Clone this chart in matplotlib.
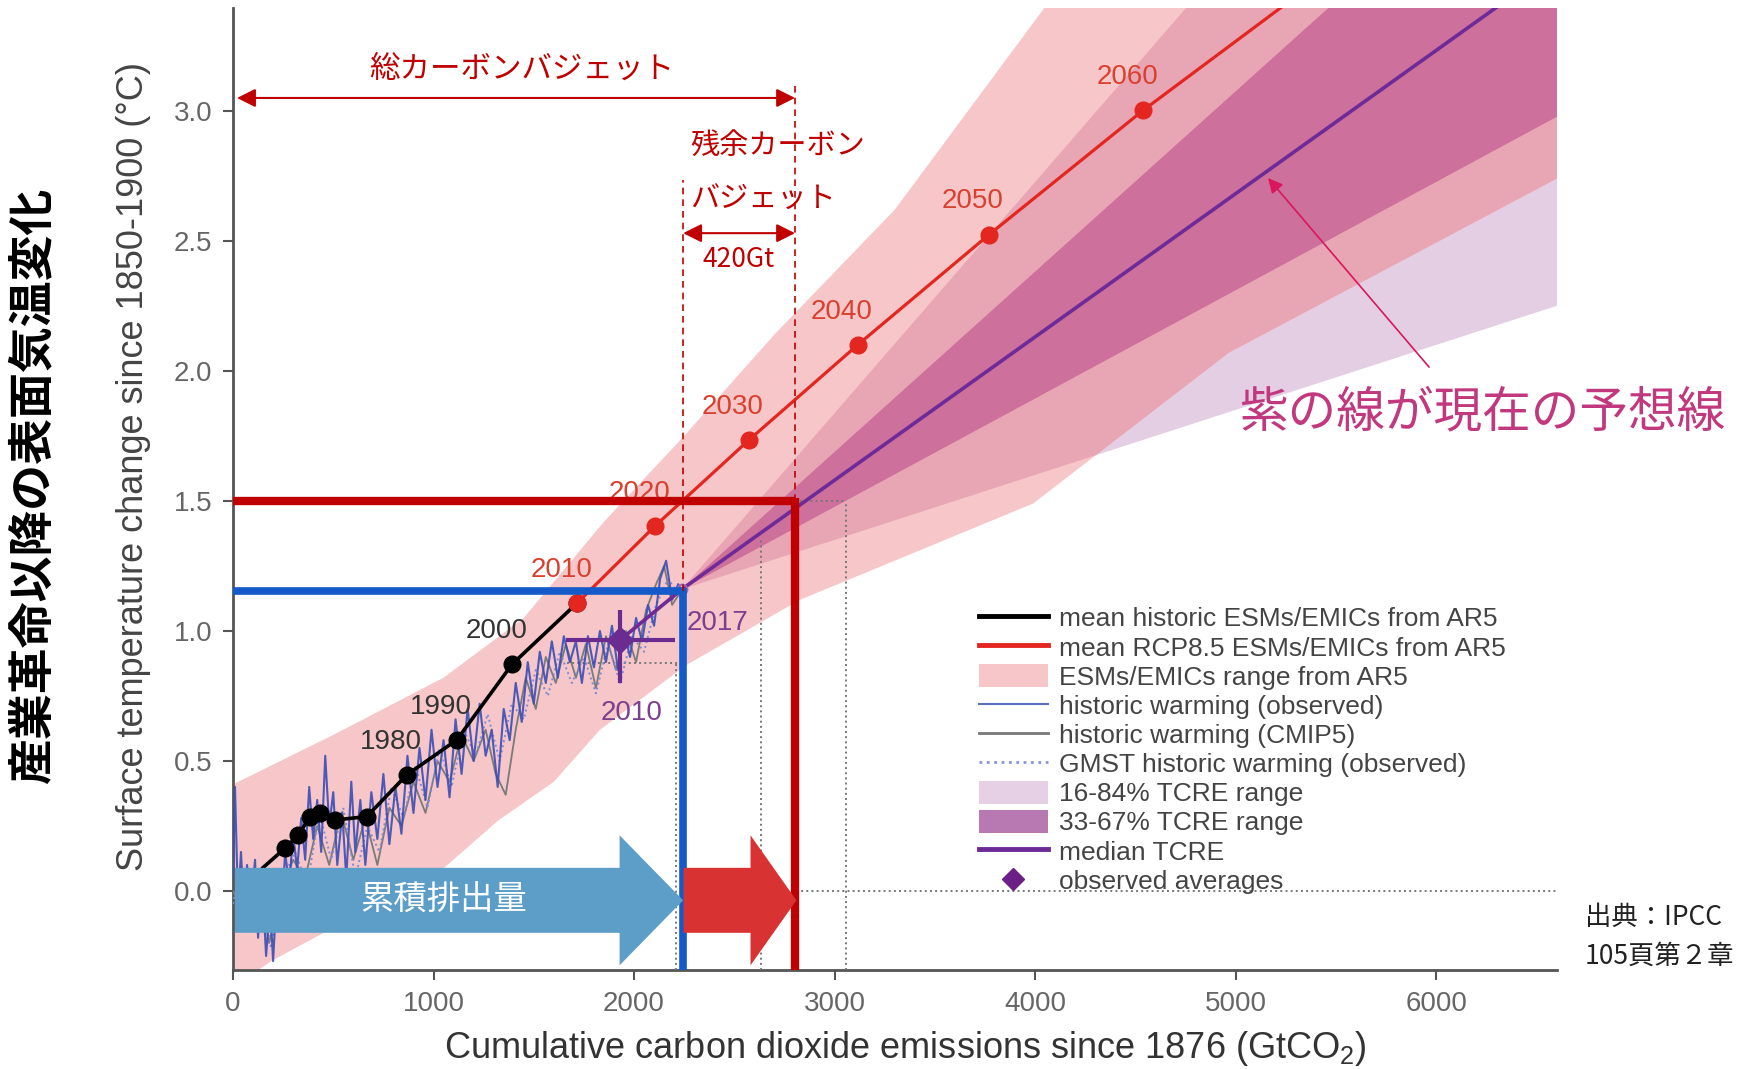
import matplotlib.pyplot as plt
from matplotlib.patches import Polygon, FancyArrow, Patch
from matplotlib.lines import Line2D

plt.rcParams['font.family'] = ['Liberation Sans', 'DejaVu Sans']
plt.rcParams['mathtext.fontset'] = 'custom'
plt.rcParams['mathtext.rm'] = 'Liberation Sans'
JP = ['Noto Sans CJK JP', 'DejaVu Sans']

# ---- data (GtCO2, degC) ----
# mean historic ESMs/EMICs from AR5 (first point is line start only)
hist_x = [150, 259, 326, 384, 434, 509, 667, 866, 1116, 1392, 1717]
hist_y = [0.09, 0.164, 0.215, 0.286, 0.299, 0.273, 0.286, 0.446, 0.581, 0.872, 1.108]
hist_labels = {7: '1980', 8: '1990', 9: '2000'}

# mean RCP8.5 ESMs/EMICs from AR5
rcp_years = ['2010', '2020', '2030', '2040', '2050', '2060']
rcp_x = [1717, 2105, 2571, 3115, 3770, 4540]
rcp_y = [1.108, 1.404, 1.733, 2.100, 2.524, 3.003]
rcp_tail_x, rcp_tail_y = 5300, 3.44

# ESMs/EMICs range from AR5 (outline: upper edge then lower edge)
ar5_upper_x = [-50, 0, 500, 1050, 1450, 1850, 2250, 2700, 3300, 4050, 4450]
ar5_upper_y = [0.40, 0.41, 0.60, 0.82, 1.05, 1.42, 1.75, 2.14, 2.62, 3.40, 3.70]
ar5_lower_x = [6800, 6700, 4966, 3990, 2828, 2263, 1830, 1600, 1321, 1054, 190, -50]
ar5_lower_y = [3.70, 2.78, 2.07, 1.49, 1.12, 0.87, 0.62, 0.42, 0.27, 0.09, -0.27, -0.40]

# TCRE ranges fanning out from 2017
tcre_outer_x = [2238, 5050, 6800, 6800]
tcre_outer_y = [1.16, 3.66, 3.66, 2.30]
tcre_inner_x = [2238, 5800, 6800, 6800]
tcre_inner_y = [1.16, 3.63, 3.63, 3.06]
tcre_med_x = [1930, 2238, 6340]
tcre_med_y = [0.965, 1.16, 3.42]

# observed averages (2006-2015) with ranges
obs_avg_x, obs_avg_y = 1930, 0.965
obs_avg_xrange = (1662, 2202)
obs_avg_yrange = (0.80, 1.08)
point_2017 = (2238, 1.16)

# historic warming (observed)
obs_x = [0, 10, 25, 40, 55, 70, 90, 110, 125, 145, 165, 185, 200, 220, 240, 260, 280,
         300, 320, 340, 360, 380, 400, 420, 440, 460, 480, 500, 520, 545, 565, 590,
         610, 635, 660, 690, 720, 750, 780, 810, 840, 870, 900, 930, 960, 990, 1020,
         1050, 1080, 1110, 1140, 1170, 1200, 1230, 1260, 1290, 1320, 1350, 1380,
         1410, 1440, 1470, 1500, 1530, 1560, 1590, 1620, 1650, 1680, 1710, 1740,
         1770, 1800, 1830, 1860, 1890, 1920, 1950, 1980, 2010, 2040, 2070, 2100,
         2130, 2160, 2190, 2220, 2240]
obs_y = [0.05, 0.40, -0.05, 0.15, -0.10, 0.10, -0.05, 0.12, -0.18, 0.05, -0.25, -0.05,
         -0.27, 0.02, -0.12, 0.15, 0.02, 0.22, 0.08, 0.28, 0.12, 0.40, 0.20, 0.35, 0.15,
         0.52, 0.25, 0.38, 0.10, 0.30, 0.05, 0.42, 0.15, 0.35, 0.10, 0.38, 0.20, 0.45,
         0.18, 0.40, 0.22, 0.52, 0.30, 0.55, 0.35, 0.62, 0.40, 0.58, 0.36, 0.66, 0.45,
         0.70, 0.50, 0.72, 0.52, 0.62, 0.40, 0.70, 0.58, 0.80, 0.65, 0.88, 0.72, 0.92,
         0.80, 0.96, 0.82, 0.98, 0.88, 0.96, 0.80, 0.98, 0.86, 1.00, 0.88, 1.02, 0.85,
         1.00, 0.90, 1.05, 0.96, 1.10, 1.02, 1.20, 1.27, 1.12, 1.18, 1.15]

# historic warming (CMIP5)
cmip_x = [0, 60, 120, 180, 240, 300, 360, 420, 480, 540, 600, 660, 720, 780, 840, 900,
          960, 1020, 1080, 1140, 1200, 1260, 1310, 1360, 1410, 1460, 1510, 1560, 1610,
          1660, 1710, 1760, 1810, 1860, 1910, 1960, 2010, 2060, 2110, 2150, 2190, 2240]
cmip_y = [0.00, -0.10, 0.05, -0.20, 0.00, 0.12, 0.05, 0.25, 0.10, 0.30, 0.12, 0.28,
          0.10, 0.32, 0.25, 0.42, 0.30, 0.50, 0.42, 0.60, 0.50, 0.62, 0.45, 0.37, 0.62,
          0.82, 0.70, 0.90, 0.80, 0.95, 0.82, 0.95, 0.78, 0.98, 0.85, 1.00, 0.88, 1.08,
          1.18, 1.25, 1.10, 1.16]

# GMST historic warming (observed)
gmst_x = [0, 40, 90, 140, 190, 250, 310, 370, 430, 490, 550, 610, 670, 730, 790, 850,
          910, 970, 1030, 1090, 1150, 1210, 1270, 1330, 1390, 1450, 1510, 1570, 1630,
          1690, 1750, 1810, 1870, 1930, 1990, 2050, 2110, 2170, 2240]
gmst_y = [-0.05, 0.10, -0.12, 0.02, -0.22, 0.05, 0.15, 0.02, 0.30, 0.12, 0.32, 0.05,
          0.25, 0.15, 0.40, 0.28, 0.48, 0.32, 0.55, 0.40, 0.62, 0.52, 0.68, 0.50, 0.72,
          0.66, 0.85, 0.75, 0.92, 0.80, 0.90, 0.76, 0.95, 0.80, 0.98, 0.92, 1.10, 1.20,
          1.12]

# carbon budget annotations
budget_15 = 1.5          # degC target
budget_total = 2803      # total budget at 1.5 degC
emitted_now = 2245       # cumulative emissions to date
warming_now = 1.155
remaining_label = '420Gt'

xticks = [0, 1000, 2000, 3000, 4000, 5000, 6000]
yticks = [0.0, 0.5, 1.0, 1.5, 2.0, 2.5, 3.0]

# ---- colours ----
C_PINK = '#f6c6c8'
C_MED = '#e8a5b4'
C_LAV = '#e3cee3'
C_DARK = '#cd709b'
C_RED = '#e3261f'
C_PURPLE = '#6e2a96'
C_BUDGET = '#c00000'
C_NOW = '#145ac8'

fig = plt.figure(figsize=(17.44, 10.69), dpi=100)
ax = fig.add_axes([233 / 1744, 1 - 970 / 1069, 1324 / 1744, 962 / 1069])
ax.set_xlim(0, 6603)
ax.set_ylim(-0.304, 3.396)

# plumes
tcre_lav = Polygon(list(zip(tcre_outer_x, tcre_outer_y)), closed=True,
                   facecolor=C_LAV, edgecolor='none', zorder=1)
ax.add_patch(tcre_lav)
ar5_patch = Polygon(list(zip(ar5_upper_x + ar5_lower_x, ar5_upper_y + ar5_lower_y)),
                    closed=True, facecolor=C_PINK, edgecolor='none', zorder=2)
ax.add_patch(ar5_patch)
tcre_med_patch = Polygon(list(zip(tcre_outer_x, tcre_outer_y)), closed=True,
                         facecolor=C_MED, edgecolor='none', zorder=3)
ax.add_patch(tcre_med_patch)
tcre_med_patch.set_clip_path(ar5_patch)
ax.add_patch(Polygon(list(zip(tcre_inner_x, tcre_inner_y)), closed=True,
                     facecolor=C_DARK, edgecolor='none', zorder=4))

# IPCC reference dotted lines
dot = dict(color='#777777', ls=':', lw=1.4, zorder=5)
ax.plot([2210, 2210], [-0.304, 0.875], **dot)
ax.plot([1664, 2212], [0.875, 0.875], **dot)
ax.plot([2633, 2633], [-0.304, 1.35], **dot)
ax.plot([3056, 3056], [-0.304, 1.5], **dot)
ax.plot([2803, 3056], [1.5, 1.5], **dot)
ax.plot([2810, 6603], [0.0, 0.0], **dot)

# historic warming series
ax.plot(cmip_x, cmip_y, color='#7a7a7a', lw=1.3, zorder=5)
ax.plot(gmst_x, gmst_y, color='#7d8bd6', lw=1.4, ls=':', zorder=5)
ax.plot(obs_x, obs_y, color='#3b4db5', lw=1.5, alpha=0.9, zorder=5)

# TCRE median and observed averages
ax.plot(tcre_med_x, tcre_med_y, color=C_PURPLE, lw=2.6, zorder=6)
ax.plot(*point_2017, marker='o', ms=7, mfc='none', mec='#9a6ab5', mew=1.5, zorder=6)
ax.errorbar(obs_avg_x, obs_avg_y,
            xerr=[[obs_avg_x - obs_avg_xrange[0]], [obs_avg_xrange[1] - obs_avg_x]],
            yerr=[[obs_avg_y - obs_avg_yrange[0]], [obs_avg_yrange[1] - obs_avg_y]],
            fmt='D', color='#6a2c91', ms=13, elinewidth=3, capsize=0, zorder=7)
ax.text(1990, 0.685, '2010', color='#7b3f8f', fontsize=20, ha='center', va='center', zorder=7)
ax.text(2414, 1.031, '2017', color='#7b3f8f', fontsize=20, ha='center', va='center', zorder=7)

# AR5 model means
ax.plot(hist_x, hist_y, color='black', lw=2.6, marker='o', ms=12,
        markevery=list(range(1, len(hist_x))), zorder=7)
for i, lab in hist_labels.items():
    ax.annotate(lab, (hist_x[i], hist_y[i]), xytext=(-11.5, 24), textcoords='offset points',
                ha='center', va='center', fontsize=20, color='#333333', zorder=8)
ax.plot(rcp_x + [rcp_tail_x], rcp_y + [rcp_tail_y], color=C_RED, lw=2.3, zorder=7)
ax.plot(rcp_x, rcp_y, ls='none', marker='o', ms=12, color=C_RED, zorder=8)
for x, y, lab in zip(rcp_x, rcp_y, rcp_years):
    ax.annotate(lab, (x, y), xytext=(-11.5, 24), textcoords='offset points',
                ha='center', va='center', fontsize=20, color='#d9402f', zorder=8)

# 1.5 degC budget and current state
ax.plot([0, budget_total], [budget_15, budget_15], color=C_BUDGET, lw=6, zorder=9,
        solid_capstyle='butt')
ax.plot([budget_total, budget_total], [-0.304, budget_15 + 0.012], color=C_BUDGET, lw=6,
        zorder=9, solid_capstyle='butt')
ax.plot([0, emitted_now], [warming_now, warming_now], color=C_NOW, lw=5.5, zorder=9,
        solid_capstyle='butt')
ax.plot([emitted_now, emitted_now], [-0.304, warming_now + 0.011], color=C_NOW, lw=5.5,
        zorder=9, solid_capstyle='butt')

dash = dict(color=C_BUDGET, lw=1.2, ls=(0, (4, 3)), zorder=9)
ax.plot([emitted_now, emitted_now], [warming_now, 2.735], **dash)
ax.plot([budget_total, budget_total], [budget_15, 3.11], **dash)

arrow = dict(arrowstyle='<|-|>', color=C_BUDGET, lw=1.5, mutation_scale=28,
             shrinkA=0, shrinkB=0)
ax.annotate('', xy=(budget_total, 3.05), xytext=(20, 3.05), arrowprops=arrow, zorder=9)
ax.annotate('', xy=(budget_total, 2.53), xytext=(emitted_now, 2.53), arrowprops=arrow,
            zorder=9)
ax.text(1441, 3.16, '総カーボンバジェット', family=JP, fontsize=22, color=C_BUDGET,
        ha='center', va='center', zorder=9)
ax.text(2279, 2.862, '残余カーボン', family=JP, fontsize=21, color=C_BUDGET,
        ha='left', va='center', zorder=9)
ax.text(2279, 2.657, 'バジェット', family=JP, fontsize=21, color=C_BUDGET,
        ha='left', va='center', zorder=9)
ax.text(2521, 2.43, remaining_label, family=JP, fontsize=19, color=C_BUDGET,
        ha='center', va='center', zorder=9)

# cumulative / remaining emission arrows
ax.add_patch(FancyArrow(10, -0.036, emitted_now - 10, 0, width=0.25, head_width=0.50,
                        head_length=317, length_includes_head=True,
                        color='#5d9ec8', lw=0, zorder=10))
ax.add_patch(FancyArrow(emitted_now + 2, -0.036, 2810 - emitted_now - 2, 0, width=0.25,
                        head_width=0.50, head_length=229, length_includes_head=True,
                        color='#d83232', lw=0, zorder=10))
ax.text(1052, -0.035, '累積排出量', family=JP, fontsize=24, color='white',
        ha='center', va='center', zorder=11)

# pointer to the median TCRE line
ax.annotate('', xy=(5162, 2.742), xytext=(5965, 2.015),
            arrowprops=dict(arrowstyle='-|>', color='#d8175c', lw=1.2,
                            mutation_scale=22, shrinkA=0, shrinkB=0), zorder=10)
fig.text(1240 / 1744, 1 - 413 / 1069, '紫の線が現在の予想線', family=JP, fontsize=35,
         color='#c2387f', ha='left', va='center')

# axes styling
for side in ('top', 'right'):
    ax.spines[side].set_visible(False)
for side in ('left', 'bottom'):
    ax.spines[side].set_color('#555555')
    ax.spines[side].set_linewidth(2)
ax.set_xticks(xticks)
ax.set_yticks(yticks)
ax.set_yticklabels([f'{v:.1f}' for v in yticks])
ax.tick_params(colors='#555555', labelcolor='#666666', labelsize=20, length=7,
               width=1.5, pad=8)
ax.set_xlabel('Cumulative carbon dioxide emissions since 1876 (GtCO$_2$)',
              fontsize=26, color='#333333')
ax.xaxis.set_label_coords(0.508, -0.061)
ax.set_ylabel('Surface temperature change since 1850-1900 (°C)', fontsize=26,
              color='#444444')
ax.yaxis.set_label_coords(-0.062, 0.523)

fig.text(33 / 1744, 1 - 486 / 1069, '産業革命以降の表面気温変化', family=JP,
         fontsize=33, fontweight='bold', rotation=90, ha='center', va='center')

# legend
handles = [
    Line2D([], [], color='black', lw=3.5),
    Line2D([], [], color=C_RED, lw=3.5),
    Patch(facecolor=C_PINK),
    Line2D([], [], color='#5a6fc0', lw=1.5),
    Line2D([], [], color='#777777', lw=2),
    Line2D([], [], color='#8a96d8', lw=2, ls=':'),
    Patch(facecolor='#e5d0e5'),
    Patch(facecolor='#b879b3'),
    Line2D([], [], color=C_PURPLE, lw=3.5),
    Line2D([], [], ls='none', marker='D', color='#6b1f87', ms=11),
]
labels = [
    'mean historic ESMs/EMICs from AR5',
    'mean RCP8.5 ESMs/EMICs from AR5',
    'ESMs/EMICs range from AR5',
    'historic warming (observed)',
    'historic warming (CMIP5)',
    'GMST historic warming (observed)',
    '16-84% TCRE range',
    '33-67% TCRE range',
    'median TCRE',
    'observed averages',
]
leg = ax.legend(handles, labels, loc='upper left',
                bbox_to_anchor=(979 / 1744, 1 - 606 / 1069), bbox_transform=fig.transFigure,
                frameon=False, fontsize=19, labelspacing=0.14, handlelength=2.6,
                handleheight=0.95, handletextpad=0.45, borderpad=0, borderaxespad=0)
for t in leg.get_texts():
    t.set_color('#444444')
leg.set_zorder(12)

# source
fig.text(1585 / 1744, 1 - 917 / 1069, '出典：IPCC', family=JP, fontsize=19,
         color='#222222', ha='left', va='center')
fig.text(1585 / 1744, 1 - 956 / 1069, '105頁第２章', family=JP, fontsize=19,
         color='#222222', ha='left', va='center')

fig.savefig('out.png', dpi=100)
